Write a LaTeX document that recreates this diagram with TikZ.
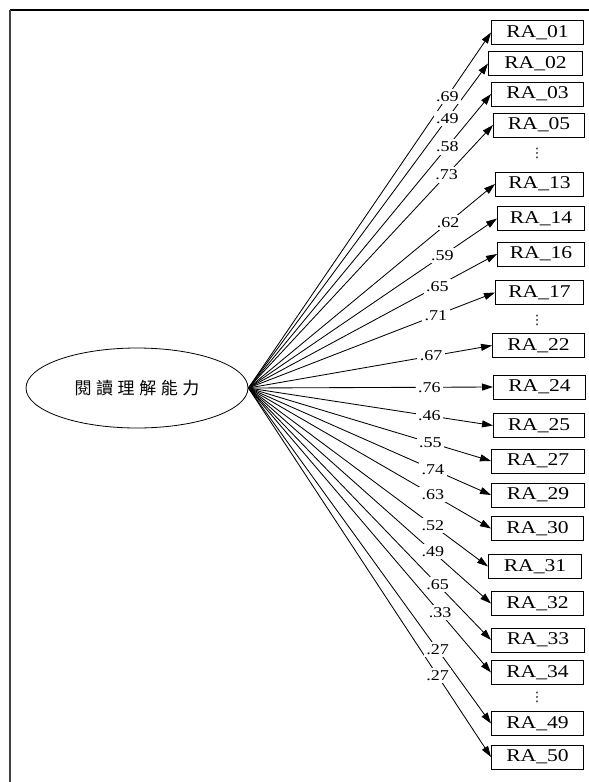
\documentclass[tikz,border=0pt]{standalone}
\usepackage{fontspec}
\usepackage{tikz}
\usetikzlibrary{positioning}
\usetikzlibrary{shapes.geometric, arrows.meta}
\newfontfamily\boxfont{Liberation Serif}[FakeStretch=1.2]
\newfontfamily\cjkfont{Noto Sans CJK TC}[LetterSpace=27]
\newfontfamily\dotfont{DejaVu Sans}

\begin{document}
\begin{tikzpicture}[x=1pt, y=-1pt,
	item/.style = {draw, rectangle, anchor=west, minimum width=92pt,
		minimum height=24pt, inner sep=0pt, line width=0.9pt,
		font=\boxfont\fontsize{18}{20}\selectfont},
	latent/.style = {draw, ellipse, minimum width=222pt, minimum height=80pt,
		inner sep=0pt, line width=0.8pt, font=\cjkfont\fontsize{17}{19}\selectfont},
	coef/.style = {fill=white, inner sep=2.5pt,
		font=\boxfont\fontsize{15}{17}\selectfont},
	more/.style = {inner sep=0pt, font=\dotfont\fontsize{13}{14}\selectfont}]
	\useasboundingbox (0,0) rectangle (589,782);
	\draw [line width=1.2pt] (10,10) -- (589,10);
	\draw [line width=1.4pt, black!75] (10,10) -- (10,782);
	\node (lv) [latent] at (137,388) {閱讀理解能力};
	\node (r01) [item] at (491,32.5) {RA\_01};
	\node (r02) [item, minimum width=94pt] at (488,63.5) {RA\_02};
	\node (r03) [item] at (491,94) {RA\_03};
	\node (r05) [item, minimum width=91pt] at (493,125) {RA\_05};
	\node (d1) [more] at (537,153) {⋮};
	\node (r13) [item, minimum width=88pt] at (495,184) {RA\_13};
	\node (r14) [item, minimum width=87pt] at (497,218.5) {RA\_14};
	\node (r16) [item, minimum width=87pt] at (497,254) {RA\_16};
	\node (r17) [item, minimum width=88pt] at (495,292.5) {RA\_17};
	\node (d2) [more] at (537,320) {⋮};
	\node (r22) [item] at (492,345.5) {RA\_22};
	\node (r24) [item] at (493,387) {RA\_24};
	\node (r25) [item, minimum width=91pt] at (493,425.5) {RA\_25};
	\node (r27) [item, minimum width=93pt] at (491,461) {RA\_27};
	\node (r29) [item, minimum width=93pt] at (491,495) {RA\_29};
	\node (r30) [item] at (491,528.5) {RA\_30};
	\node (r31) [item, minimum width=93pt] at (488,566.5) {RA\_31};
	\node (r32) [item] at (491,603.5) {RA\_32};
	\node (r33) [item, minimum width=93pt] at (491,640) {RA\_33};
	\node (r34) [item] at (491,672.5) {RA\_34};
	\node (d3) [more] at (537,697) {⋮};
	\node (r49) [item] at (491,723.5) {RA\_49};
	\node (r50) [item] at (491,757) {RA\_50};
	\path [-{Triangle[length=11pt,width=7pt]}, line width=0.85pt]
	(lv.east) edge (r01.west)
	(lv.east) edge (r02.west)
	(lv.east) edge (r03.west)
	(lv.east) edge (r05.west)
	(lv.east) edge (r13.west)
	(lv.east) edge (r14.west)
	(lv.east) edge (r16.west)
	(lv.east) edge (r17.west)
	(lv.east) edge (r22.west)
	(lv.east) edge (r24.west)
	(lv.east) edge (r25.west)
	(lv.east) edge (r27.west)
	(lv.east) edge (r29.west)
	(lv.east) edge (r30.west)
	(lv.east) edge (r31.west)
	(lv.east) edge (r32.west)
	(lv.east) edge (r33.west)
	(lv.east) edge (r34.west)
	(lv.east) edge (r49.west)
	(lv.east) edge (r50.west);
	% loadings, put on top of all lines
	\path
	(lv.east) -- (r01.west) node[coef, pos=0.82] {.69}
	(lv.east) -- (r02.west) node[coef, pos=0.83] {.49}
	(lv.east) -- (r03.west) node[coef, pos=0.82] {.58}
	(lv.east) -- (r05.west) node[coef, pos=0.81] {.73}
	(lv.east) -- (r13.west) node[coef, pos=0.81] {.62}
	(lv.east) -- (r14.west) node[coef, pos=0.78] {.59}
	(lv.east) -- (r16.west) node[coef, pos=0.76] {.65}
	(lv.east) -- (r17.west) node[coef, pos=0.76] {.71}
	(lv.east) -- (r22.west) node[coef, pos=0.75] {.67}
	(lv.east) -- (r24.west) node[coef, pos=0.74] {.76}
	(lv.east) -- (r25.west) node[coef, pos=0.74] {.46}
	(lv.east) -- (r27.west) node[coef, pos=0.75] {.55}
	(lv.east) -- (r29.west) node[coef, pos=0.76] {.74}
	(lv.east) -- (r30.west) node[coef, pos=0.76] {.63}
	(lv.east) -- (r31.west) node[coef, pos=0.77] {.52}
	(lv.east) -- (r32.west) node[coef, pos=0.76] {.49}
	(lv.east) -- (r33.west) node[coef, pos=0.78] {.65}
	(lv.east) -- (r34.west) node[coef, pos=0.79] {.33}
	(lv.east) -- (r49.west) node[coef, pos=0.78] {.27}
	(lv.east) -- (r50.west) node[coef, pos=0.78] {.27};
\end{tikzpicture}
\end{document}
